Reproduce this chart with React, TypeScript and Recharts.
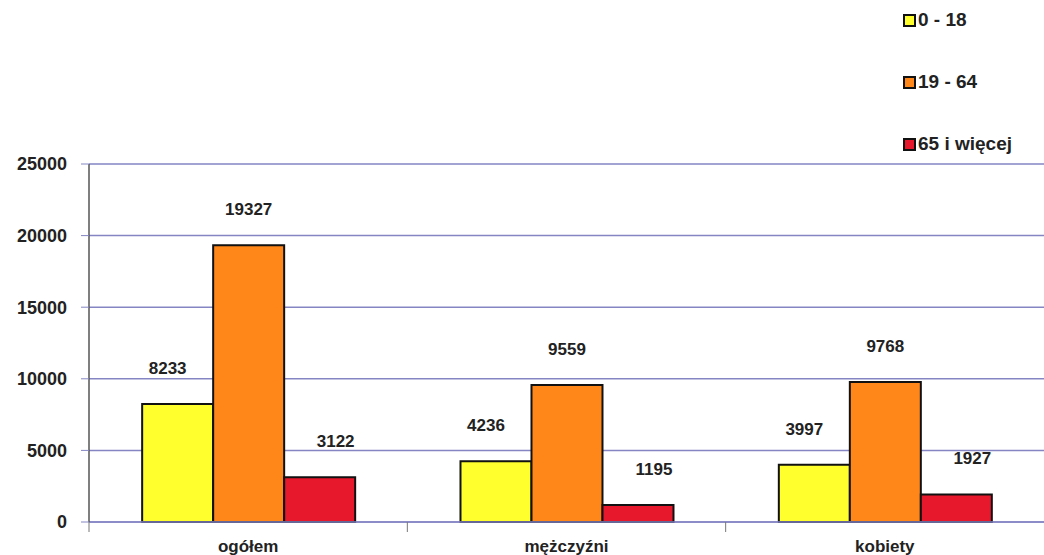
import React from 'react';
import { BarChart, Bar, XAxis, YAxis, CartesianGrid, LabelList } from 'recharts';

// categories and series values
const categories = ['ogółem', 'mężczyźni', 'kobiety'];
const young = [8233, 4236, 3997];
const adult = [19327, 9559, 9768];
const senior = [3122, 1195, 1927];
const yTicks = [0, 5000, 10000, 15000, 20000, 25000];

const seriesNames = ['0 - 18', '19 - 64', '65 i więcej'];
const seriesColors = ['#ffff2e', '#ff8618', '#e8182c'];

const W = 1044;
const H = 555;
const AXIS_W = 89;
const FONT = '"Liberation Sans", Arial, sans-serif';

const data = categories.map((name, i) => ({
  name,
  young: young[i],
  adult: adult[i],
  senior: senior[i],
}));

const halfBand = (W - AXIS_W) / categories.length / 2;

const makeLabel = (dx: number) => (props: any) => {
  const { x, y, width, value } = props;
  return (
    <text
      x={x + width / 2 + dx}
      y={y - 30}
      textAnchor="middle"
      fontFamily={FONT}
      fontWeight="bold"
      fontSize={17}
      fill="#222"
    >
      {value}
    </text>
  );
};

const XTick = (props: any) => {
  const { x, y, payload } = props;
  return (
    <g>
      <line x1={x - halfBand} y1={y - 8} x2={x - halfBand} y2={y + 2} stroke="#777" strokeWidth={1} />
      <text x={x} y={y + 22} textAnchor="middle" fontFamily={FONT} fontWeight="bold" fontSize={17} fill="#222">
        {payload.value}
      </text>
    </g>
  );
};

const LegendBox = () => (
  <div
    style={{
      position: 'absolute',
      top: -11,
      left: 903,
      fontFamily: FONT,
      fontWeight: 'bold',
      fontSize: 19,
      color: '#222',
    }}
  >
    {seriesNames.map((n, i) => (
      <div key={n} style={{ display: 'flex', alignItems: 'center', height: 62, whiteSpace: 'nowrap' }}>
        <span
          style={{
            display: 'inline-block',
            width: 9,
            height: 9,
            background: seriesColors[i],
            border: '2px solid #111',
            marginRight: 2,
          }}
        />
        {n}
      </div>
    ))}
  </div>
);

export default function App() {
  return (
    <div style={{ position: 'absolute', left: 0, top: 0, width: W, height: H, background: '#fff' }}>
      <BarChart
        width={W}
        height={H}
        data={data}
        margin={{ top: 164, right: 0, bottom: 0, left: 0 }}
        barGap={0}
        barCategoryGap="16.7%"
      >
        <CartesianGrid vertical={false} stroke="#8585c4" strokeWidth={1.5} />
        <XAxis
          dataKey="name"
          tick={<XTick />}
          tickLine={false}
          axisLine={{ stroke: '#8585c4', strokeWidth: 1.5 }}
          height={33}
          interval={0}
        />
        <YAxis
          width={AXIS_W}
          domain={[0, 25000]}
          ticks={yTicks}
          interval={0}
          axisLine={{ stroke: '#555', strokeWidth: 1.5 }}
          tickLine={{ stroke: '#8585c4' }}
          tickSize={8}
          tickMargin={14}
          tick={{ fontFamily: FONT, fontWeight: 'bold', fontSize: 18, fill: '#222' }}
        />
        <Bar dataKey="young" name={seriesNames[0]} fill={seriesColors[0]} stroke="#111" strokeWidth={2} isAnimationActive={false}>
          <LabelList dataKey="young" content={makeLabel(-10)} />
        </Bar>
        <Bar dataKey="adult" name={seriesNames[1]} fill={seriesColors[1]} stroke="#111" strokeWidth={2} isAnimationActive={false}>
          <LabelList dataKey="adult" content={makeLabel(0)} />
        </Bar>
        <Bar dataKey="senior" name={seriesNames[2]} fill={seriesColors[2]} stroke="#111" strokeWidth={2} isAnimationActive={false}>
          <LabelList dataKey="senior" content={makeLabel(16)} />
        </Bar>
      </BarChart>
      <LegendBox />
    </div>
  );
}
